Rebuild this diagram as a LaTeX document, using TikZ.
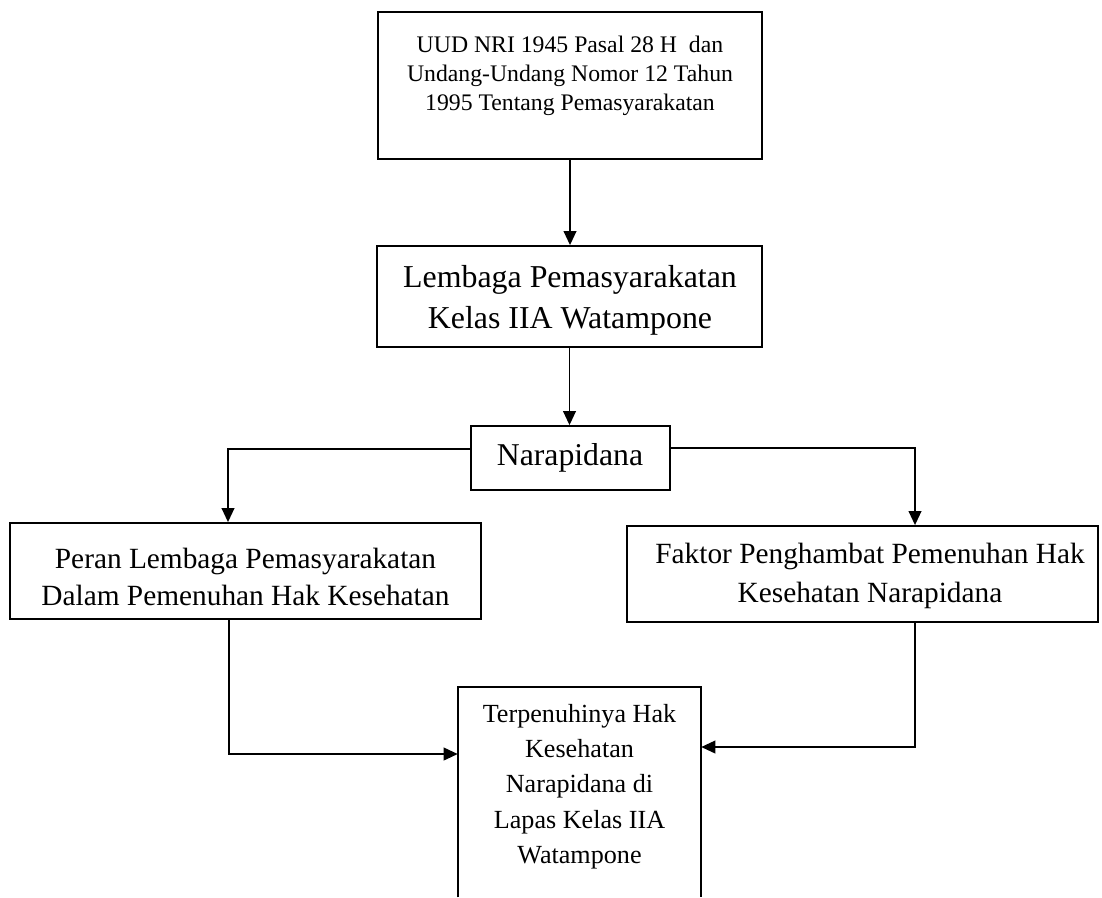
\documentclass[tikz,border=0pt]{standalone}
\usepackage{fontspec}
\setmainfont{Liberation Serif}
\usetikzlibrary{arrows.meta,calc,fit}
\begin{document}
\begin{tikzpicture}[x=0.75pt,y=-0.75pt,
  boxnode/.style={draw, line width=1.35pt, rectangle, inner sep=0pt},
  openbox/.style={rectangle, inner sep=0pt},
  txt/.style={anchor=base, inner sep=0pt},
  conn/.style={line width=1.3pt, -{Triangle[length=10.5pt,width=9.5pt]}},
  plain/.style={line width=1.3pt},
]
\useasboundingbox[fill=white] (0,0) rectangle (1102,897);

% boxes
\node[boxnode, fit={(378,12) (762,159)}] (top) {};
\node[boxnode, fit={(377,246) (762,347)}] (lapas) {};
\node[boxnode, fit={(471,426) (670,490)}] (napi) {};
\node[boxnode, fit={(10,523) (481,619)}] (peran) {};
\node[boxnode, fit={(627,526) (1098,622)}] (faktor) {};
\node[openbox, fit={(458,687) (701,897)}] (hasil) {};
\draw[line width=1.35pt] (hasil.south west) -- (hasil.north west) -- (hasil.north east) -- (hasil.south east);

% texts
\node[txt, font=\fontsize{17.8pt}{21.75pt}\selectfont] (toptext) at (570,52)
  {\begin{tabular}[t]{@{}c@{}}UUD NRI 1945 Pasal 28 H~ dan\\Undang-Undang Nomor 12 Tahun\\1995 Tentang Pemasyarakatan\end{tabular}};
\node[txt, font=\fontsize{23.9pt}{30.75pt}\selectfont] (lapastext) at (570,287)
  {\begin{tabular}[t]{@{}c@{}}Lembaga Pemasyarakatan\\Kelas IIA Watampone\end{tabular}};
\node[txt, font=\fontsize{23.8pt}{28pt}\selectfont] (napitext) at (570,465) {Narapidana};
\node[txt, font=\fontsize{22pt}{27.75pt}\selectfont] (perantext) at (245.5,568)
  {\begin{tabular}[t]{@{}c@{}}Peran Lembaga Pemasyarakatan\\Dalam Pemenuhan Hak Kesehatan\end{tabular}};
\node[txt, font=\fontsize{22pt}{29.25pt}\selectfont] (faktortext) at (870,563)
  {\begin{tabular}[t]{@{}c@{}}Faktor Penghambat Pemenuhan Hak\\Kesehatan Narapidana\end{tabular}};
\node[txt, font=\fontsize{19.6pt}{26.5pt}\selectfont] (hasiltext) at (579.5,722)
  {\begin{tabular}[t]{@{}c@{}}Terpenuhinya Hak\\Kesehatan\\Narapidana di\\Lapas Kelas IIA\\Watampone\end{tabular}};

% bend points
\coordinate (bl) at (228,449);
\coordinate (br) at (915,448);
\coordinate (cl) at (229,754);
\coordinate (cr) at (915,747);

% connectors
\draw[conn] (top.south) -- (top.south |- lapas.north);
\draw[conn] (lapas.south) -- (lapas.south |- napi.north);
\draw[conn] (napi.west |- bl) -- (bl) -- (bl |- peran.north);
\draw[conn] (napi.east |- br) -- (br) -- (br |- faktor.north);
\draw[conn] (cl |- peran.south) -- (cl) -- (cl -| hasil.west);
\draw[conn] (cr |- faktor.south) -- (cr) -- (cr -| hasil.east);
\end{tikzpicture}
\end{document}
